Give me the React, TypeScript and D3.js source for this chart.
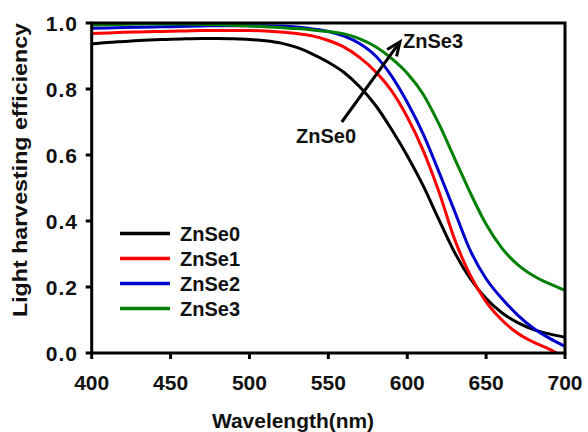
import React from "react";
import * as d3 from "d3";

const wavelengths = [400, 410, 420, 430, 440, 450, 460, 470, 480, 490, 500, 510, 520, 530, 540, 550, 560, 570, 580, 590, 600, 610, 620, 630, 640, 650, 660, 670, 680, 690, 700];

const znse0 = [0.937, 0.941, 0.944, 0.947, 0.949, 0.951, 0.952, 0.953, 0.953, 0.952, 0.950, 0.946, 0.939, 0.926, 0.906, 0.881, 0.850, 0.806, 0.750, 0.678, 0.598, 0.508, 0.405, 0.305, 0.225, 0.165, 0.122, 0.092, 0.071, 0.058, 0.048];
const znse1 = [0.968, 0.970, 0.972, 0.973, 0.974, 0.975, 0.976, 0.977, 0.977, 0.977, 0.977, 0.976, 0.973, 0.968, 0.961, 0.947, 0.927, 0.895, 0.852, 0.795, 0.715, 0.615, 0.490, 0.345, 0.235, 0.155, 0.100, 0.060, 0.033, 0.012, -0.015];
const znse2 = [0.984, 0.985, 0.986, 0.987, 0.988, 0.989, 0.990, 0.991, 0.992, 0.992, 0.992, 0.992, 0.991, 0.988, 0.982, 0.974, 0.960, 0.937, 0.900, 0.840, 0.760, 0.665, 0.550, 0.430, 0.310, 0.225, 0.165, 0.115, 0.075, 0.045, 0.020];
const znse3 = [0.994, 0.995, 0.996, 0.997, 0.997, 0.997, 0.997, 0.996, 0.995, 0.993, 0.991, 0.989, 0.986, 0.983, 0.979, 0.974, 0.967, 0.952, 0.928, 0.893, 0.848, 0.785, 0.695, 0.590, 0.485, 0.390, 0.318, 0.268, 0.234, 0.210, 0.190];

const seriesNames = ["ZnSe0", "ZnSe1", "ZnSe2", "ZnSe3"];
const seriesColors = ["#000000", "#ff0000", "#0000cc", "#008000"];
const seriesValues = [znse0, znse1, znse2, znse3];

const xTicks = [400, 450, 500, 550, 600, 650, 700];
const yTicks = [0.0, 0.2, 0.4, 0.6, 0.8, 1.0];

const xTitle = "Wavelength(nm)";
const yTitle = "Light harvesting efficiency";

// annotation arrow (data coords): from ZnSe0 label toward ZnSe3 label
const arrowFrom = [558.5, 0.70];
const arrowTo = [595.4, 0.943];

const FONT = "'Liberation Sans', Arial, Helvetica, sans-serif";

export default function App() {
  const W = 588, H = 432;
  const left = 91.7, right = 565, top = 23, bottom = 353;
  const x = d3.scaleLinear().domain([400, 700]).range([left, right]);
  const y = d3.scaleLinear().domain([0, 1]).range([bottom, top]);

  const line = d3
    .line<[number, number]>()
    .x((d) => x(d[0]))
    .y((d) => y(d[1]))
    .curve(d3.curveMonotoneX);

  const ax1 = x(arrowFrom[0]), ay1 = y(arrowFrom[1]);
  const ax2 = x(arrowTo[0]), ay2 = y(arrowTo[1]);
  const ang = Math.atan2(ay2 - ay1, ax2 - ax1);
  const headLen = 15, headAng = 0.4;
  const h1x = ax2 - headLen * Math.cos(ang - headAng), h1y = ay2 - headLen * Math.sin(ang - headAng);
  const h2x = ax2 - headLen * Math.cos(ang + headAng), h2y = ay2 - headLen * Math.sin(ang + headAng);

  const legendX = 120, legendY0 = 233.5, legendStep = 25;

  return (
    <svg width={W} height={H} style={{ position: "absolute", left: 0, top: 0, background: "#fff" }} fontFamily={FONT}>
      <rect x={0} y={0} width={W} height={H} fill="#fff" />
      <defs>
        <clipPath id="plotclip">
          <rect x={left} y={top} width={right - left} height={bottom - top} />
        </clipPath>
      </defs>

      <g clipPath="url(#plotclip)">
        {seriesValues.map((vals, i) => (
          <path
            key={seriesNames[i]}
            d={line(wavelengths.map((w, j) => [w, vals[j]] as [number, number])) || ""}
            fill="none"
            stroke={seriesColors[i]}
            strokeWidth={3}
            strokeLinejoin="round"
          />
        ))}
      </g>

      {/* frame */}
      <rect x={left} y={top} width={right - left} height={bottom - top} fill="none" stroke="#000" strokeWidth={3} />

      {/* x ticks */}
      {xTicks.map((t) => (
        <g key={"x" + t}>
          <line x1={x(t)} x2={x(t)} y1={bottom} y2={bottom + 6} stroke="#000" strokeWidth={3} />
          <text x={x(t)} y={390} textAnchor="middle" fontSize={21} fontWeight="bold" fill="#111">
            {t}
          </text>
        </g>
      ))}

      {/* y ticks */}
      {yTicks.map((t) => (
        <g key={"y" + t}>
          <line x1={left - 6} x2={left} y1={y(t)} y2={y(t)} stroke="#000" strokeWidth={3} />
          <text x={78} y={y(t) + 7.5} textAnchor="end" fontSize={21} fontWeight="bold" fill="#111" letterSpacing={1}>
            {t.toFixed(1)}
          </text>
        </g>
      ))}

      {/* axis titles */}
      <text x={293} y={428} textAnchor="middle" fontSize={21} fontWeight="bold" fill="#111" textLength={162} lengthAdjust="spacingAndGlyphs">
        {xTitle}
      </text>
      <text transform={`translate(26.5,170) rotate(-90)`} textAnchor="middle" fontSize={21} fontWeight="bold" fill="#111" textLength={294} lengthAdjust="spacingAndGlyphs">
        {yTitle}
      </text>

      {/* legend */}
      {seriesNames.map((n, i) => (
        <g key={"lg" + n}>
          <line x1={legendX} x2={legendX + 50} y1={legendY0 + i * legendStep} y2={legendY0 + i * legendStep} stroke={seriesColors[i]} strokeWidth={3.5} />
          <text x={180} y={legendY0 + i * legendStep + 7} fontSize={20} fontWeight="bold" fill="#111">
            {n}
          </text>
        </g>
      ))}

      {/* annotation */}
      <line x1={ax1} y1={ay1} x2={ax2} y2={ay2} stroke="#000" strokeWidth={3} />
      <polyline points={`${h1x},${h1y} ${ax2},${ay2} ${h2x},${h2y}`} fill="none" stroke="#000" strokeWidth={3} />
      <text x={403} y={48} fontSize={20} fontWeight="bold" fill="#111">
        ZnSe3
      </text>
      <text x={326} y={143} textAnchor="middle" fontSize={20} fontWeight="bold" fill="#111">
        ZnSe0
      </text>
    </svg>
  );
}
